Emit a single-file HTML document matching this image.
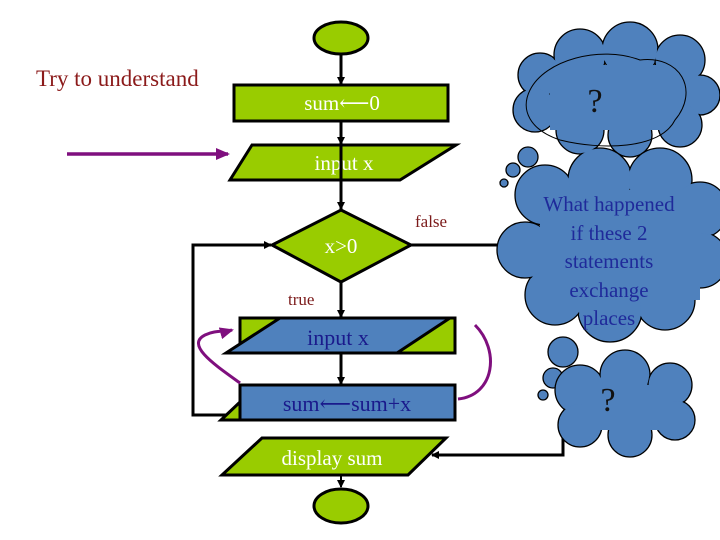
<!DOCTYPE html>
<html><head><meta charset="utf-8"><style>
html,body{margin:0;padding:0;background:#fff;}
svg{display:block;}
text{font-family:"Liberation Serif",serif;}
.ar{font-family:"DejaVu Serif",serif;}
</style></head><body>
<svg width="720" height="540" viewBox="0 0 720 540" xmlns="http://www.w3.org/2000/svg">
<defs>
<marker id="ab" markerWidth="8" markerHeight="8" refX="7" refY="4" orient="auto" markerUnits="userSpaceOnUse"><path d="M0,0 L8,4 L0,8 z" fill="#000"/></marker>
<marker id="ap" markerWidth="14" markerHeight="12" refX="12" refY="6" orient="auto" markerUnits="userSpaceOnUse"><path d="M0,0 L14,6 L0,12 z" fill="#7f0f7e"/></marker>
</defs>

<text x="36" y="86" font-size="23" fill="#8b1a1a">Try to understand</text>
<line x1="67" y1="154" x2="228" y2="154" stroke="#7f0f7e" stroke-width="3.5" marker-end="url(#ap)"/>

<g stroke="#000" stroke-width="3" fill="none">
<line x1="341" y1="54" x2="341" y2="84" marker-end="url(#ab)"/>
<line x1="341" y1="121" x2="341" y2="144" marker-end="url(#ab)"/>
<line x1="341" y1="180" x2="341" y2="209" marker-end="url(#ab)"/>
<line x1="341" y1="282" x2="341" y2="317" marker-end="url(#ab)"/>
<line x1="341" y1="353" x2="341" y2="384" marker-end="url(#ab)"/>
<polyline points="240,415 193,415 193,245 271,245" marker-end="url(#ab)"/>
<line x1="411" y1="245" x2="510" y2="245"/>
<polyline points="563,420 563,455 432,455" marker-end="url(#ab)"/>
<line x1="341" y1="475" x2="341" y2="487" stroke-width="2" marker-end="url(#ab)"/>
</g>

<ellipse cx="341" cy="38" rx="27" ry="16" fill="#99cc00" stroke="#000" stroke-width="3"/>
<rect x="234" y="85" width="214" height="36" fill="#99cc00" stroke="#000" stroke-width="3"/>
<text x="342" y="110" font-size="21" fill="#fff" text-anchor="middle">sum<tspan class="ar">⟵</tspan>0</text>
<polygon points="252,145 456,145 400,180 230,180" fill="#99cc00" stroke="#000" stroke-width="3"/>
<text x="344" y="170" font-size="21" fill="#fff" text-anchor="middle">input x</text>
<line x1="341" y1="121" x2="341" y2="209" stroke="#000" stroke-width="3"/>
<polygon points="341,210 411,245 341,282 272,245" fill="#99cc00" stroke="#000" stroke-width="3"/>
<text x="341" y="253" font-size="21" fill="#fff" text-anchor="middle">x&gt;0</text>
<text x="415" y="227" font-size="17" fill="#7b1a1a">false</text>
<text x="288" y="305" font-size="17" fill="#7b1a1a">true</text>

<rect x="240" y="318" width="215" height="35" fill="#99cc00" stroke="#000" stroke-width="3"/>
<polygon points="280,318 450,318 397,353 226,353" fill="#4f81bd" stroke="#000" stroke-width="3"/>
<text x="338" y="345" font-size="22" fill="#1a1a8c" text-anchor="middle">input x</text>

<polygon points="240,402 240,420 221,420" fill="#99cc00" stroke="#000" stroke-width="3"/>
<rect x="240" y="385" width="215" height="35" fill="#4f81bd" stroke="#000" stroke-width="3"/>
<text x="347" y="411" font-size="22" fill="#1a1a8c" text-anchor="middle">sum<tspan class="ar">⟵</tspan>sum+x</text>

<polygon points="262,438 446,438 408,475 222,475" fill="#99cc00" stroke="#000" stroke-width="3"/>
<text x="332" y="465" font-size="21" fill="#fff" text-anchor="middle">display sum</text>
<ellipse cx="341" cy="506" rx="27" ry="17" fill="#99cc00" stroke="#000" stroke-width="3"/>

<path d="M240,383 C215,365 185,345 205,335 C215,330 225,332 232,330" stroke="#7f0f7e" stroke-width="3" fill="none" marker-end="url(#ap)"/>
<path d="M475,325 C500,350 495,395 458,399" stroke="#7f0f7e" stroke-width="3" fill="none"/>

<g stroke="#000" stroke-width="1.3" fill="#4f81bd">
<circle cx="540" cy="75" r="22"/><circle cx="580" cy="55" r="26"/><circle cx="630" cy="50" r="28"/><circle cx="680" cy="60" r="25"/><circle cx="700" cy="95" r="20"/><circle cx="680" cy="125" r="22"/><circle cx="630" cy="135" r="22"/><circle cx="580" cy="130" r="24"/><circle cx="535" cy="110" r="22"/>
<circle cx="528" cy="157" r="10"/><circle cx="513" cy="170" r="7"/><circle cx="504" cy="183" r="4"/>
<circle cx="545" cy="195" r="30"/><circle cx="600" cy="180" r="32"/><circle cx="660" cy="180" r="32"/><circle cx="700" cy="210" r="28"/><circle cx="700" cy="260" r="28"/><circle cx="665" cy="300" r="30"/><circle cx="610" cy="310" r="32"/><circle cx="555" cy="295" r="30"/><circle cx="525" cy="250" r="28"/>
<circle cx="563" cy="352" r="15"/><circle cx="553" cy="378" r="10"/><circle cx="543" cy="395" r="5"/>
<circle cx="580" cy="390" r="25"/><circle cx="625" cy="375" r="25"/><circle cx="670" cy="385" r="22"/><circle cx="675" cy="420" r="20"/><circle cx="630" cy="435" r="22"/><circle cx="580" cy="425" r="22"/>
</g>
<g fill="#4f81bd">
<circle cx="540" cy="75" r="21"/><circle cx="580" cy="55" r="25"/><circle cx="630" cy="50" r="27"/><circle cx="680" cy="60" r="24"/><circle cx="700" cy="95" r="19"/><circle cx="680" cy="125" r="21"/><circle cx="630" cy="135" r="21"/><circle cx="580" cy="130" r="23"/><circle cx="535" cy="110" r="21"/><rect x="550" y="65" width="135" height="65"/>
<circle cx="545" cy="195" r="29"/><circle cx="600" cy="180" r="31"/><circle cx="660" cy="180" r="31"/><circle cx="700" cy="210" r="27"/><circle cx="700" cy="260" r="27"/><circle cx="665" cy="300" r="29"/><circle cx="610" cy="310" r="31"/><circle cx="555" cy="295" r="29"/><circle cx="525" cy="250" r="27"/><rect x="540" y="190" width="160" height="110"/>
<circle cx="580" cy="390" r="24"/><circle cx="625" cy="375" r="24"/><circle cx="670" cy="385" r="21"/><circle cx="675" cy="420" r="19"/><circle cx="630" cy="435" r="21"/><circle cx="580" cy="425" r="21"/><rect x="582" y="385" width="90" height="45"/>
</g>
<path d="M530,90 C545,60 600,45 640,60 C680,55 700,90 675,120 C660,150 600,150 560,140 C530,130 520,110 530,90 Z" fill="none" stroke="#000" stroke-width="1"/>
<text x="595" y="112" font-size="34" fill="#111" text-anchor="middle">?</text>
<text x="608" y="411" font-size="34" fill="#111" text-anchor="middle">?</text>
<g font-size="21" fill="#1f2a9a" text-anchor="middle">
<text x="609" y="211">What happened</text>
<text x="609" y="240">if these 2</text>
<text x="609" y="268">statements</text>
<text x="609" y="297">exchange</text>
<text x="609" y="325">places</text>
</g>
</svg>
</body></html>
